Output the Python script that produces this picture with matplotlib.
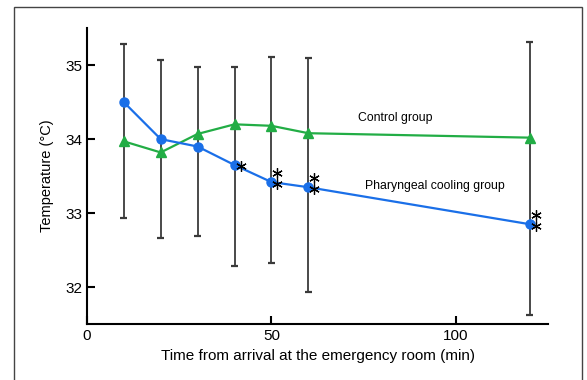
import matplotlib.pyplot as plt
from matplotlib.patches import Rectangle
from matplotlib.transforms import offset_copy

plt.rcParams['font.family'] = ['Liberation Sans', 'DejaVu Sans']

times = [10, 20, 30, 40, 50, 60, 120]
cooling = [34.5, 34.0, 33.9, 33.65, 33.42, 33.35, 32.85]
control = [33.97, 33.82, 34.07, 34.2, 34.18, 34.08, 34.02]
err_upper = [35.29, 35.07, 34.97, 34.98, 35.11, 35.09, 35.31]
err_lower = [32.94, 32.66, 32.69, 32.29, 32.32, 31.93, 31.62]
# number of asterisks next to each cooling point
stars = [0, 0, 0, 1, 2, 2, 2]

blue = '#1a6fe8'
green = '#22ad45'
grey = '#3a3a3a'

fig = plt.figure(figsize=(5.87, 3.8), dpi=100)
ax = fig.add_axes([0.148, 0.147, 0.786, 0.779])

# outer frame
fig.patches.append(Rectangle((14 / 587, -0.05), 568 / 587, 1.05 - 7 / 380,
                             transform=fig.transFigure, fill=False,
                             edgecolor='#444444', lw=1.0))

ax.vlines(times, err_lower, err_upper, color=grey, lw=1.3, zorder=1)
ax.hlines(err_upper, [t - 0.9 for t in times], [t + 0.9 for t in times], color=grey, lw=1.6, zorder=1)
ax.hlines(err_lower, [t - 0.9 for t in times], [t + 0.9 for t in times], color=grey, lw=1.6, zorder=1)

ax.plot(times, control, color=green, lw=1.6, marker='^', markersize=7, zorder=3)
ax.plot(times, cooling, color=blue, lw=1.6, marker='o', markersize=6.5, zorder=4)

star_kw = dict(marker=(6, 2, 0), markersize=7.5, mew=0.9, color='black', ls='none', zorder=5)
for t, v, n in zip(times, cooling, stars):
    if n == 1:
        tr = offset_copy(ax.transData, fig=fig, x=5, y=-0.7, units='points')
        ax.plot([t], [v], transform=tr, **star_kw)
    elif n == 2:
        for dy in (6.5, -1.5):
            tr = offset_copy(ax.transData, fig=fig, x=4.3, y=dy, units='points')
            ax.plot([t], [v], transform=tr, **star_kw)

ax.text(83.5, 34.28, 'Control group', fontsize=8.8, ha='center', va='center')
ax.text(94.3, 33.36, 'Pharyngeal cooling group', fontsize=8.8, ha='center', va='center')

ax.set_xlim(0, 125)
ax.set_ylim(31.5, 35.5)
ax.set_xticks([0, 50, 100])
ax.set_yticks([32, 33, 34, 35])
for s in ['top', 'right']:
    ax.spines[s].set_visible(False)
for s in ['left', 'bottom']:
    ax.spines[s].set_linewidth(1.5)
ax.tick_params(direction='in', length=6, width=1.5, labelsize=11)
ax.set_xlabel('Time from arrival at the emergency room (min)', fontsize=11, labelpad=4)
ax.set_ylabel('Temperature (°C)', fontsize=10.5, labelpad=8)

fig.savefig('out.png', dpi=100)
